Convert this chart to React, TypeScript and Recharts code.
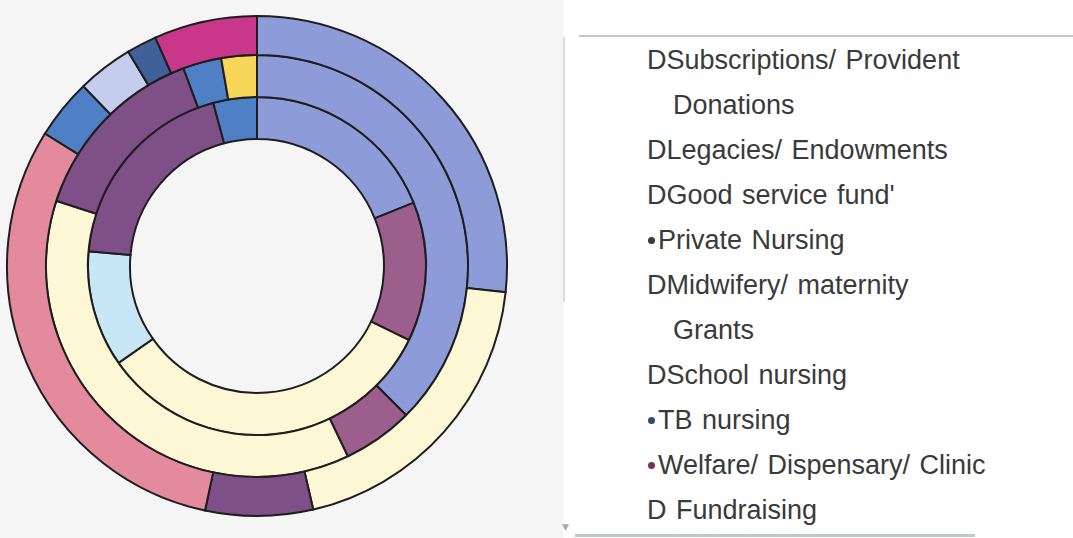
import React from 'react'
import { PieChart, Pie, Cell, Legend } from 'recharts'

// shares in degrees of the circle, read clockwise from 12 o'clock
const outerNames = ['Subscriptions', 'Fundraising', 'Welfare', 'Legacies', 'School', 'Good service', 'TB', 'Private']
const outerValues = [96, 71, 25, 110, 14, 13, 7, 24]
const outerColors = ['#8d9cd8', '#fdf7d6', '#7f4f88', '#e48a9d', '#4f80c6', '#c5cdee', '#3f6099', '#c9378a']

const middleNames = ['Subscriptions', 'Welfare', 'Fundraising', 'Midwifery', 'School', 'Grants']
const middleValues = [135, 19.5, 133.5, 51.6, 10.6, 9.8]
const middleColors = ['#8d9cd8', '#9b5e8d', '#fdf7d6', '#7f4f88', '#4f80c6', '#f8d65a']

const innerNames = ['Subscriptions', 'Welfare', 'Fundraising', 'Donations', 'Midwifery', 'School']
const innerValues = [68, 48, 119, 40, 70, 15]
const innerColors = ['#8d9cd8', '#9b5e8d', '#fdf7d6', '#c8e7f6', '#7f4f88', '#4f80c6']

const legendLines = [
  'DSubscriptions/ Provident',
  'Donations',
  'DLegacies/ Endowments',
  "DGood service fund'",
  'Private Nursing',
  'DMidwifery/ maternity',
  'Grants',
  'DSchool nursing',
  'TB nursing',
  'Welfare/ Dispensary/ Clinic',
  'D Fundraising',
]
const bulletColors: Record<string, string> = {
  'Private Nursing': '#3a3a3a',
  'TB nursing': '#2f4d72',
  'Welfare/ Dispensary/ Clinic': '#7c2f5c',
}
const continuationLines = ['Donations', 'Grants']

const toData = (names: string[], values: number[]) => names.map((name, i) => ({ name, value: values[i] }))

function LegendBlock() {
  return (
    <div style={{ fontFamily: '"Liberation Sans", Arial, sans-serif', fontSize: 27, lineHeight: '45px', color: '#3a3a3a' }}>
      {legendLines.map((line) => {
        const bullet = bulletColors[line]
        const indent = continuationLines.includes(line) ? 108 : bullet ? 85 : 82
        return (
          <div key={line} style={{ paddingLeft: indent, whiteSpace: 'nowrap', position: 'relative', wordSpacing: 2 }}>
            {bullet && (
              <span style={{ position: 'absolute', left: 83, top: 19, width: 7, height: 7, borderRadius: 4, background: bullet }} />
            )}
            {bullet ? <span style={{ marginLeft: 8 }}>{line}</span> : line}
          </div>
        )
      })}
    </div>
  )
}

export default function App() {
  const stroke = '#1e1e1e'
  return (
    <div style={{ position: 'fixed', left: 0, top: 0, width: 1073, height: 538, background: '#ffffff', overflow: 'hidden' }}>
      <div style={{ position: 'absolute', left: 0, top: 0, width: 563, height: 538, background: '#f5f5f5' }} />
      <div style={{ position: 'absolute', left: 579, top: 35, width: 494, height: 2, background: '#c2c8c4' }} />
      <div style={{ position: 'absolute', left: 563, top: 37, width: 2, height: 265, background: '#dcdcdc' }} />
      <div style={{ position: 'absolute', left: 575, top: 534, width: 400, height: 3, background: '#c4c8c6' }} />
      <div style={{ position: 'absolute', left: 562, top: 522, fontSize: 9, color: '#aaaaaa', fontFamily: 'DejaVu Sans' }}>▼</div>
      <div style={{ position: 'absolute', left: 0, top: 0 }}>
        <PieChart width={1073} height={538} margin={{ top: 0, right: 0, bottom: 0, left: 0 }}>
          <Pie
            data={toData(innerNames, innerValues)}
            dataKey="value"
            nameKey="name"
            cx={257}
            cy={266}
            innerRadius={127}
            outerRadius={169}
            startAngle={90}
            endAngle={-270}
            stroke={stroke}
            strokeWidth={2}
            isAnimationActive={false}
          >
            {innerColors.map((c, i) => (
              <Cell key={i} fill={c} />
            ))}
          </Pie>
          <Pie
            data={toData(middleNames, middleValues)}
            dataKey="value"
            nameKey="name"
            cx={257}
            cy={266}
            innerRadius={169}
            outerRadius={211}
            startAngle={90}
            endAngle={-270}
            stroke={stroke}
            strokeWidth={2}
            isAnimationActive={false}
          >
            {middleColors.map((c, i) => (
              <Cell key={i} fill={c} />
            ))}
          </Pie>
          <Pie
            data={toData(outerNames, outerValues)}
            dataKey="value"
            nameKey="name"
            cx={257}
            cy={266}
            innerRadius={211}
            outerRadius={250}
            startAngle={90}
            endAngle={-270}
            stroke={stroke}
            strokeWidth={2}
            isAnimationActive={false}
          >
            {outerColors.map((c, i) => (
              <Cell key={i} fill={c} />
            ))}
          </Pie>
          <Legend
            layout="vertical"
            align="right"
            verticalAlign="top"
            content={() => <LegendBlock />}
            wrapperStyle={{ position: 'absolute', left: 565, top: 38, width: 508, height: 500 }}
          />
        </PieChart>
      </div>
    </div>
  )
}
